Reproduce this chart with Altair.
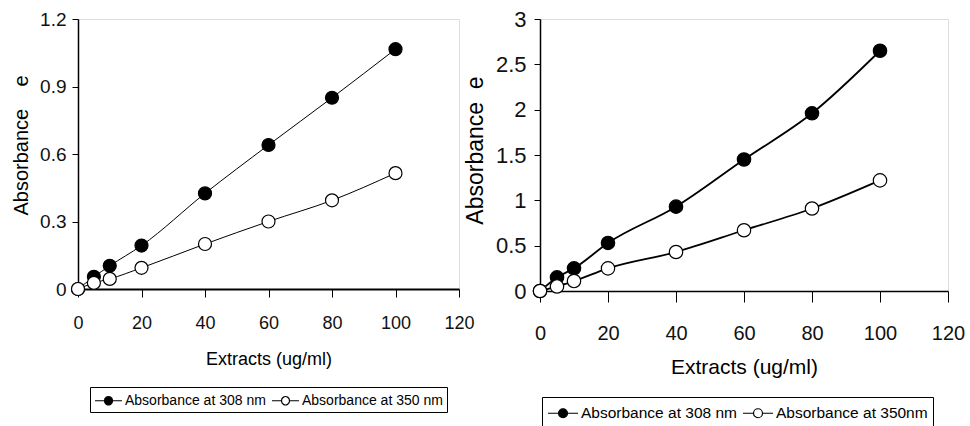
import altair as alt
import pandas as pd

# Extract concentrations (ug/ml)
conc = [0, 5, 10, 20, 40, 60, 80, 100]

# Panel A absorbance readings
a_308 = [0, 0.054, 0.103, 0.193, 0.425, 0.64, 0.85, 1.066]
a_350 = [0, 0.027, 0.045, 0.094, 0.2, 0.3, 0.394, 0.515]

# Panel B absorbance readings
b_308 = [0, 0.15, 0.25, 0.53, 0.93, 1.45, 1.96, 2.65]
b_350 = [0, 0.05, 0.11, 0.25, 0.43, 0.67, 0.91, 1.22]

left_labels = ["Absorbance at 308 nm", "Absorbance at 350 nm"]
right_labels = ["Absorbance at 308 nm", "Absorbance at 350nm"]

x_ticks = [0, 20, 40, 60, 80, 100, 120]
left_y_ticks = [0, 0.3, 0.6, 0.9, 1.2]
right_y_ticks = [0, 0.5, 1, 1.5, 2, 2.5, 3]

FONT = "Liberation Sans"
NB = "\u00a0"


def glyph(box, span, dia):
    """Legend glyph: a line with a circle on it, starting at the left edge of
    a square symbol box of side `box` and running `span` px to the right."""
    u = box / 2.0
    end = span / u - 1
    c = (end - 1) / 2.0
    r = dia / 2.0 / u
    path = (f"M-1,0L{c - r:.3f},0M{c + r:.3f},0L{end:.3f},0"
            f"M{c - r:.3f},0A{r:.3f},{r:.3f},0,1,1,{c + r:.3f},0"
            f"A{r:.3f},{r:.3f},0,1,1,{c - r:.3f},0Z")
    return path, box * box, span - box + 2


def frame(labels, v308, v350):
    rows = []
    for name, vals in zip(labels, (v308, v350)):
        for c, v in zip(conc, vals):
            rows.append({"conc": c, "abs": v, "series": name})
    return pd.DataFrame(rows)


def panel(df, labels, ymax, yticks, w, h, s):
    sym_path, sym_size, lab_off = glyph(*s["glyph"])
    x = alt.X(
        "conc:Q",
        scale=alt.Scale(domain=[0, 120], nice=False),
        axis=alt.Axis(
            values=x_ticks, title="Extracts (ug/ml)", grid=False,
            tickSize=s["xtick"], tickColor="black", tickWidth=1,
            domainColor="black", domainWidth=s["dom"],
            labelFont=FONT, labelFontSize=s["xlab"], labelColor="#111",
            labelPadding=s["xlabpad"], labelFlush=False,
            titleFont=FONT, titleFontSize=s["xtitle"], titleColor="black",
            titleFontWeight="normal", titlePadding=s["xtitlepad"],
        ),
    )
    y = alt.Y(
        "abs:Q",
        scale=alt.Scale(domain=[0, ymax], nice=False),
        axis=alt.Axis(
            values=yticks, format=".1~f", title="Absorbance" + NB * s["gap"] + "e",
            grid=False, tickSize=6, tickColor="black", tickWidth=1,
            domainColor="black", domainWidth=1.5,
            labelFont=FONT, labelFontSize=s["ylab"], labelColor="#111",
            labelPadding=s["ylabpad"], labelFlush=False,
            titleFont=FONT, titleFontSize=s["ytitle"], titleColor="black",
            titleFontWeight="normal", titlePadding=s["ytitlepad"],
            titleY=s["ty"],
        ),
    )
    base = alt.Chart(df)
    line = base.mark_line(
        interpolate="monotone", color="black", strokeWidth=s["lw"], clip=False
    ).encode(x=x, y=y, detail="series:N")
    pts = base.mark_point(
        filled=True, size=s["pt"], stroke="black", strokeWidth=1.2,
        opacity=1, clip=False,
    ).encode(
        x=x, y=y,
        fill=alt.Fill(
            "series:N",
            scale=alt.Scale(domain=labels, range=["black", "white"]),
            legend=alt.Legend(
                title=None, orient="none", direction="horizontal", columns=2,
                legendX=s["lx"], legendY=s["ly"],
                symbolType=sym_path, symbolSize=sym_size,
                symbolStrokeColor="black", symbolStrokeWidth=1.2,
                symbolOpacity=1, labelLimit=0,
                labelFont=FONT, labelFontSize=s["leg"], labelColor="black",
                labelOffset=lab_off, columnPadding=s["colpad"], padding=s["lpad"],
                strokeColor="black", fillColor="white", cornerRadius=0,
            ),
        ),
    )
    return alt.layer(line, pts).properties(width=w, height=h)


left = panel(
    frame(left_labels, a_308, a_350), left_labels, 1.2, left_y_ticks, 381, 270,
    dict(xtick=8, dom=2, xlab=18, xlabpad=17, xtitle=18, xtitlepad=18,
         ylab=19, ylabpad=6, ytitle=20, ytitlepad=8, gap=4, ty=126, lw=1, pt=169,
         lx=12, ly=368, glyph=(17, 27, 8), leg=14, colpad=3, lpad=4),
)
right = panel(
    frame(right_labels, b_308, b_350), right_labels, 3, right_y_ticks, 408, 272,
    dict(xtick=11, dom=1.5, xlab=20, xlabpad=21, xtitle=21, xtitlepad=13,
         ylab=22, ylabpad=8, ytitle=23, ytitlepad=8, gap=2, ty=131, lw=1.8, pt=180,
         lx=2, ly=378, glyph=(20, 30, 9), leg=15.5, colpad=3, lpad=5),
)

chart = (
    alt.hconcat(left, right, spacing=81, bounds="flush")
    .resolve_scale(fill="independent")
    .resolve_legend(fill="independent")
    .properties(padding={"left": 11, "top": 7, "right": 0, "bottom": 0})
    .configure_view(stroke="black", strokeWidth=1.5)
    .configure(background="white")
)

chart.save("out.html", embed_options={"renderer": "svg", "actions": False})
